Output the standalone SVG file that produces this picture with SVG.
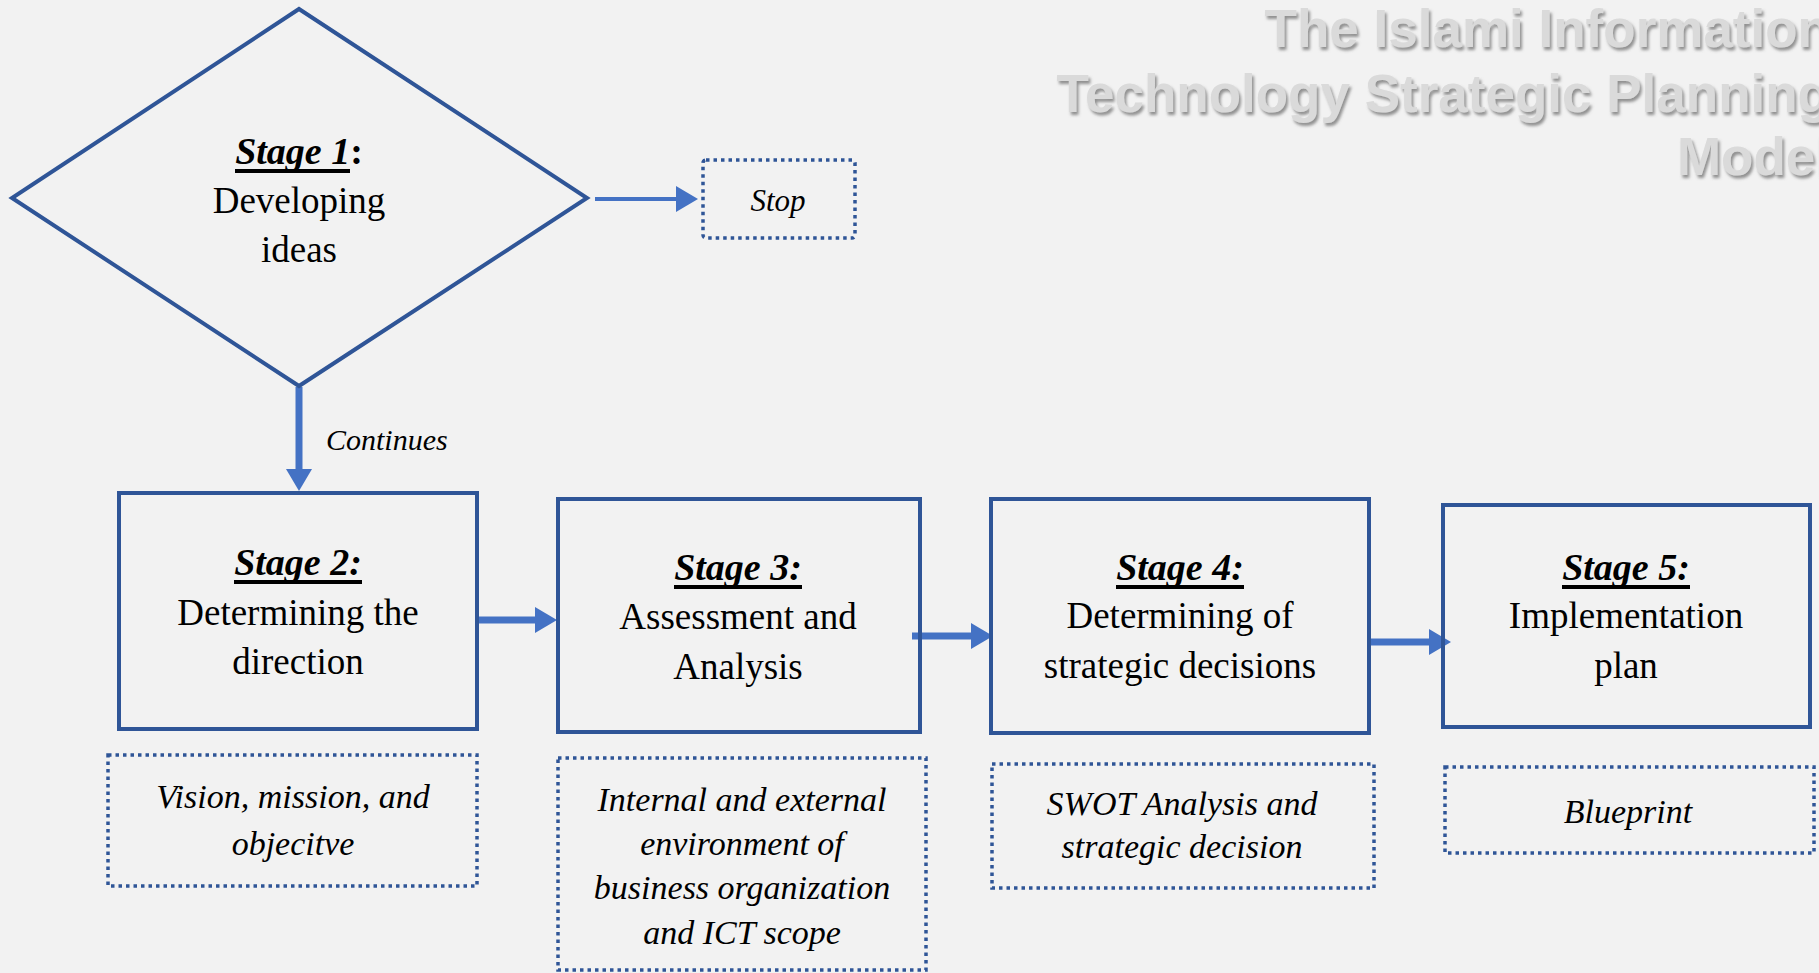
<svg xmlns="http://www.w3.org/2000/svg" width="1819" height="973" viewBox="0 0 1819 973">
<style>
.box{fill:none;stroke:#2F5597;stroke-width:4}
.dot{fill:none;stroke:#2F5597;stroke-width:3.5;stroke-dasharray:3.5 4}
.conn{fill:none;stroke:#4472C4;stroke-width:7}
.hd{font-family:"Liberation Serif",serif;font-size:38px;font-weight:bold;font-style:italic;fill:#000;text-anchor:middle}
.tx{font-family:"Liberation Serif",serif;font-size:37px;fill:#000;text-anchor:middle}
.it{font-family:"Liberation Serif",serif;font-size:34px;font-style:italic;fill:#000;text-anchor:middle}
.ul{stroke:#000;stroke-width:4}
.title{font-family:"Liberation Sans",Arial,sans-serif;font-size:53px;font-weight:bold;fill:#DADADA;text-anchor:end}
</style>
<defs>
<marker id="ah" markerUnits="userSpaceOnUse" markerWidth="22" markerHeight="26" viewBox="0 0 22 26" refX="1" refY="13" orient="auto">
<path d="M0,0 L22,13 L0,26 Z" fill="#4472C4"/>
</marker>
<filter id="sh" x="-5%" y="-20%" width="110%" height="150%">
<feDropShadow dx="2" dy="3" stdDeviation="1.5" flood-color="#707070" flood-opacity="0.75"/>
</filter>
</defs>
<rect width="1819" height="973" fill="#F2F2F2"/>

<g id="title" filter="url(#sh)">
<text class="title" x="1830" y="47">The Islami Information</text>
<text class="title" x="1830" y="112">Technology Strategic Planning</text>
<text class="title" x="1830" y="175">Model</text>
</g>

<g id="connectors">
<line class="conn" x1="595" y1="199" x2="677" y2="199" style="stroke-width:4" marker-end="url(#ah)"/>
<line class="conn" x1="299" y1="387" x2="299" y2="470" marker-end="url(#ah)"/>
<line class="conn" x1="477" y1="620" x2="536" y2="620" marker-end="url(#ah)"/>
<line class="conn" x1="912" y1="636" x2="972" y2="636" marker-end="url(#ah)"/>
<line class="conn" x1="1369" y1="642" x2="1430" y2="642" marker-end="url(#ah)"/>
<text x="326" y="450" style="font-family:'Liberation Serif',serif;font-size:30px;font-style:italic;fill:#000">Continues</text>
</g>

<g id="stage1">
<polygon class="box" points="299,9 587,198 299,386 12,198"/>
<text class="hd" x="299" y="164">Stage 1<tspan style="font-style:normal">:</tspan></text>
<line class="ul" x1="235" y1="171" x2="350" y2="171"/>
<text class="tx" x="299" y="213">Developing</text>
<text class="tx" x="299" y="262">ideas</text>
</g>

<g id="stop">
<rect class="dot" x="703" y="160" width="152" height="78" rx="3"/>
<text x="778" y="211" style="font-family:'Liberation Serif',serif;font-size:31px;font-style:italic;fill:#000;text-anchor:middle">Stop</text>
</g>

<g id="stage2">
<rect class="box" x="119" y="493" width="358" height="236"/>
<text class="hd" x="298" y="575">Stage 2:</text>
<line class="ul" x1="234" y1="582" x2="362" y2="582"/>
<text class="tx" x="298" y="625">Determining the</text>
<text class="tx" x="298" y="674">direction</text>
</g>

<g id="note2">
<rect class="dot" x="108" y="755" width="369" height="131"/>
<text class="it" x="293" y="808">Vision, mission, and</text>
<text class="it" x="293" y="855">objecitve</text>
</g>

<g id="stage3">
<rect class="box" x="558" y="499" width="362" height="233"/>
<text class="hd" x="738" y="580">Stage 3:</text>
<line class="ul" x1="674" y1="587" x2="802" y2="587"/>
<text class="tx" x="738" y="629">Assessment and</text>
<text class="tx" x="738" y="679">Analysis</text>
</g>

<g id="note3">
<rect class="dot" x="558" y="758" width="368" height="212"/>
<text class="it" x="742" y="811">Internal and external</text>
<text class="it" x="742" y="855">environment of</text>
<text class="it" x="742" y="899">business organization</text>
<text class="it" x="742" y="944">and ICT scope</text>
</g>

<g id="stage4">
<rect class="box" x="991" y="499" width="378" height="234"/>
<text class="hd" x="1180" y="580">Stage 4:</text>
<line class="ul" x1="1116" y1="587" x2="1244" y2="587"/>
<text class="tx" x="1180" y="628">Determining of</text>
<text class="tx" x="1180" y="678">strategic decisions</text>
</g>

<g id="note4">
<rect class="dot" x="992" y="764" width="382" height="124"/>
<text class="it" x="1182" y="815">SWOT Analysis and</text>
<text class="it" x="1182" y="858">strategic decision</text>
</g>

<g id="stage5">
<rect class="box" x="1443" y="505" width="367" height="222"/>
<text class="hd" x="1626" y="580">Stage 5:</text>
<line class="ul" x1="1562" y1="587" x2="1690" y2="587"/>
<text class="tx" x="1626" y="628">Implementation</text>
<text class="tx" x="1626" y="678">plan</text>
</g>

<g id="note5">
<rect class="dot" x="1445" y="767" width="369" height="86"/>
<text class="it" x="1628" y="823">Blueprint</text>
</g>
</svg>
